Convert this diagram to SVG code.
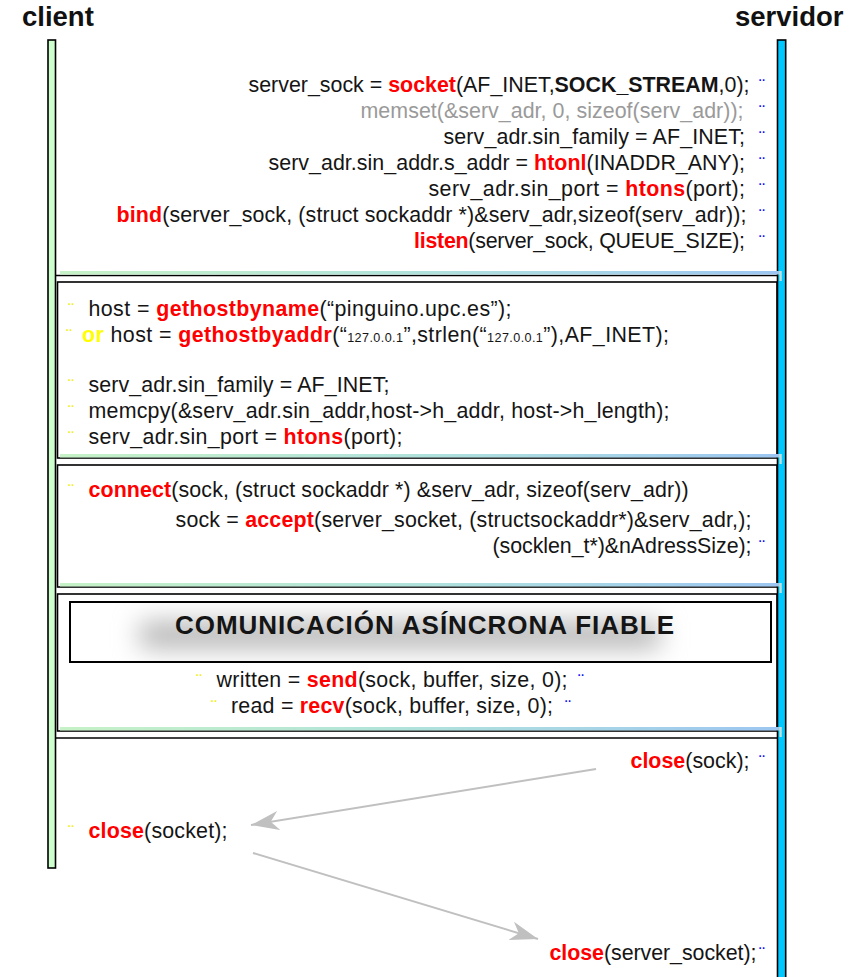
<svg xmlns="http://www.w3.org/2000/svg" width="861" height="977" viewBox="0 0 861 977">
<defs>
<linearGradient id="sepg" x1="0" x2="1"><stop offset="0" stop-color="#c6f2c6"/><stop offset="0.5" stop-color="#b0e2dc"/><stop offset="1" stop-color="#9cc6f2"/></linearGradient>
<marker id="ah" markerUnits="userSpaceOnUse" viewBox="0 0 28 20" refX="28" refY="10" markerWidth="28" markerHeight="20" orient="auto"><path d="M28,10 L0,0.4 L8,10 L0,19.6 Z" fill="#c0c0c0"/></marker>
<filter id="blur" x="-50%" y="-150%" width="200%" height="400%"><feGaussianBlur stdDeviation="13"/></filter>
<clipPath id="boxclip"><rect x="71" y="603" width="699" height="58"/></clipPath>
</defs>
<style>
text{font-family:"Liberation Sans",Arial,sans-serif;font-size:21.4px;fill:#151515}
.b{font-weight:bold}
.r{fill:#ff0000;font-weight:bold}
.g{fill:#9a9a9a}
.y{fill:#ffff00;font-weight:bold}
.bd{fill:#0000ff;font-size:18px}
.yd{fill:#f0f000;font-size:18px}
.sm{font-size:12.6px}
.hdr{font-size:27.5px;font-weight:bold;fill:#111}
.blk{fill:#fff;stroke:#000;stroke-width:1.6}
.ln{stroke:#000;stroke-width:1.6}
.sep{fill:url(#sepg)}
.conn{stroke:#c0c0c0;stroke-width:2;fill:none;marker-end:url(#ah)}
.e{text-anchor:end}
</style>
<g id="blocks">
<line class="ln" x1="56" y1="275.5" x2="777" y2="275.5"/>
<rect class="blk" x="57.5" y="282" width="719.5" height="176"/>
<rect class="blk" x="57.5" y="465" width="719.5" height="122"/>
<rect class="blk" x="57.5" y="594" width="719.5" height="137"/>
<line class="ln" x1="56" y1="738" x2="777" y2="738"/>
</g>
<g id="client">
<text class="hdr" x="22" y="26">client</text>
<rect x="48" y="40" width="7.5" height="828" fill="#ccffcc" stroke="#000" stroke-width="1.6"/>
</g>
<g id="servidor">
<text class="hdr" x="735" y="26">servidor</text>
<rect x="777.5" y="40" width="8.2" height="950" fill="#00c8ff" stroke="#000" stroke-width="1.6"/>
</g>
<g id="separators">
<rect class="sep" x="60" y="271" width="722" height="3.5"/>
<rect class="sep" x="779.5" y="271" width="2.5" height="10"/>
<rect class="sep" x="60" y="454" width="722" height="3.5"/>
<rect class="sep" x="779.5" y="454" width="2.5" height="10"/>
<rect class="sep" x="60" y="583" width="722" height="3.5"/>
<rect class="sep" x="779.5" y="583" width="2.5" height="10"/>
<rect class="sep" x="60" y="727" width="722" height="3.5"/>
<rect class="sep" x="779.5" y="727" width="2.5" height="10"/>
</g>
<g id="server-setup">
<text class="e" x="749.5" y="92" textLength="501" lengthAdjust="spacing">server_sock = <tspan class="r">socket</tspan>(AF_INET,<tspan class="b">SOCK_STREAM</tspan>,0);</text>
<text class="e g" x="743.5" y="118" textLength="383" lengthAdjust="spacing">memset(&amp;serv_adr, 0, sizeof(serv_adr));</text>
<text class="e" x="745" y="144" textLength="301.5" lengthAdjust="spacing">serv_adr.sin_family = AF_INET;</text>
<text class="e" x="745" y="170" textLength="476.5" lengthAdjust="spacing">serv_adr.sin_addr.s_addr = <tspan class="r">htonl</tspan>(INADDR_ANY);</text>
<text class="e" x="745" y="196" textLength="316.5" lengthAdjust="spacing">serv_adr.sin_port = <tspan class="r">htons</tspan>(port);</text>
<text class="e" x="746.5" y="222" textLength="630" lengthAdjust="spacing"><tspan class="r">bind</tspan>(server_sock, (struct sockaddr *)&amp;serv_adr,sizeof(serv_adr));</text>
<text class="e" x="745" y="248" textLength="331" lengthAdjust="spacing"><tspan class="r">listen</tspan>(server_sock, QUEUE_SIZE);</text>
<text class="bd" x="759" y="92">¨</text>
<text class="bd" x="759" y="118">¨</text>
<text class="bd" x="759" y="144">¨</text>
<text class="bd" x="759" y="170">¨</text>
<text class="bd" x="759" y="196">¨</text>
<text class="bd" x="759" y="222">¨</text>
<text class="bd" x="759" y="248">¨</text>
</g>
<g id="client-setup">
<text class="yd" x="68" y="316">¨</text>
<text x="88.5" y="316" textLength="423" lengthAdjust="spacing">host = <tspan class="r">gethostbyname</tspan>(“pinguino.upc.es”);</text>
<text class="yd" x="66" y="342">¨</text>
<text x="82" y="342" textLength="587" lengthAdjust="spacing"><tspan class="y">or</tspan> host = <tspan class="r">gethostbyaddr</tspan>(“<tspan class="sm">127.0.0.1</tspan>”,strlen(“<tspan class="sm">127.0.0.1</tspan>”),AF_INET);</text>
<text class="yd" x="68" y="392">¨</text>
<text x="88.5" y="392" textLength="301" lengthAdjust="spacing">serv_adr.sin_family = AF_INET;</text>
<text class="yd" x="68" y="418">¨</text>
<text x="88.5" y="418" textLength="581" lengthAdjust="spacing">memcpy(&amp;serv_adr.sin_addr,host-&gt;h_addr, host-&gt;h_length);</text>
<text class="yd" x="68" y="444">¨</text>
<text x="88.5" y="444" textLength="314" lengthAdjust="spacing">serv_adr.sin_port = <tspan class="r">htons</tspan>(port);</text>
</g>
<g id="connection">
<text class="yd" x="68" y="497">¨</text>
<text x="88.5" y="497" textLength="600" lengthAdjust="spacing"><tspan class="r">connect</tspan>(sock, (struct sockaddr *) &amp;serv_adr, sizeof(serv_adr))</text>
<text class="e" x="751.5" y="527" textLength="576" lengthAdjust="spacing">sock = <tspan class="r">accept</tspan>(server_socket, (structsockaddr*)&amp;serv_adr,);</text>
<text class="e" x="751.5" y="553" textLength="259" lengthAdjust="spacing">(socklen_t*)&amp;nAdressSize);</text>
<text class="bd" x="759" y="553">¨</text>
</g>
<g id="communication">
<rect x="70" y="602" width="701" height="60" fill="#fff" stroke="#000" stroke-width="2"/>
<g clip-path="url(#boxclip)"><rect x="140" y="622" width="520" height="26" fill="#b4b4b4" filter="url(#blur)"/></g>
<text x="175" y="634" class="b" style="font-size:26px" textLength="499" lengthAdjust="spacing">COMUNICACIÓN ASÍNCRONA FIABLE</text>
<text class="yd" x="196" y="687">¨</text>
<text x="216.5" y="687" textLength="351" lengthAdjust="spacing">written = <tspan class="r">send</tspan>(sock, buffer, size, 0);</text>
<text class="bd" x="578" y="687">¨</text>
<text class="yd" x="211" y="713">¨</text>
<text x="231" y="713" textLength="322" lengthAdjust="spacing">read = <tspan class="r">recv</tspan>(sock, buffer, size, 0);</text>
<text class="bd" x="565" y="713">¨</text>
</g>
<g id="closing">
<text class="e" x="749.5" y="768" textLength="119" lengthAdjust="spacing"><tspan class="r">close</tspan>(sock);</text>
<text class="bd" x="759" y="768">¨</text>
<text class="yd" x="68" y="838">¨</text>
<text x="88.5" y="838" textLength="139" lengthAdjust="spacing"><tspan class="r">close</tspan>(socket);</text>
<text class="e" x="756.5" y="960" textLength="207" lengthAdjust="spacing"><tspan class="r">close</tspan>(server_socket);</text>
<text class="bd" x="759" y="960">¨</text>
</g>
<g id="connectors">
<path class="conn" d="M596,769 L251,825"/>
<path class="conn" d="M253,853 L538,939"/>
</g>
</svg>
